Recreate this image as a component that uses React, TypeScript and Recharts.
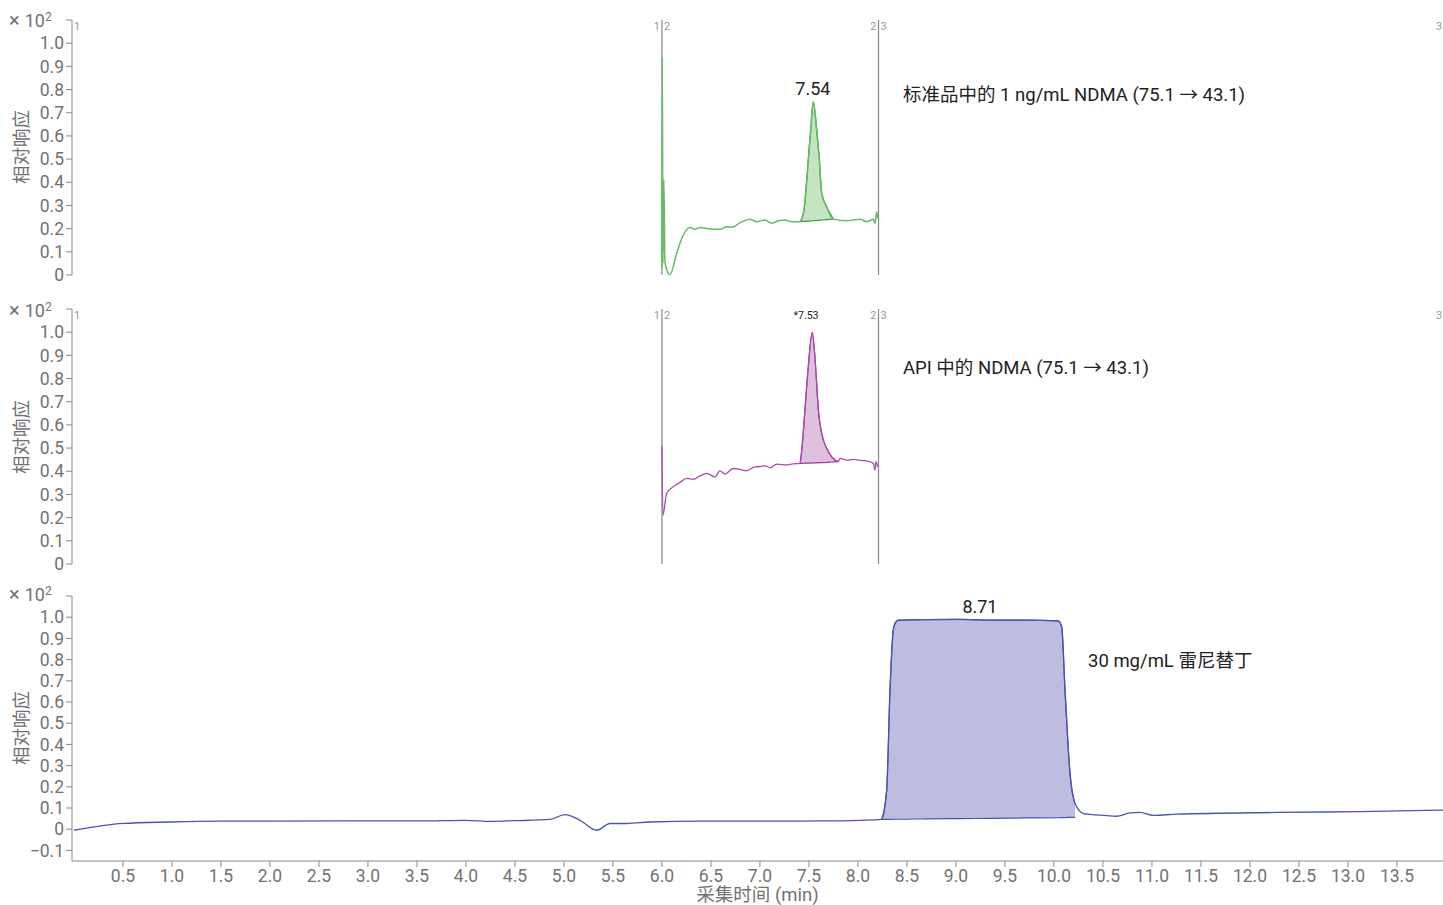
import React from "react";
import {
  ComposedChart,
  Line,
  Area,
  XAxis,
  YAxis,
  ReferenceLine,
  ReferenceDot,
} from "recharts";

// shared x axis (acquisition time, min)
const X_DOMAIN: [number, number] = [-0.02, 13.97];
const xTicks = [0.5, 1.0, 1.5, 2.0, 2.5, 3.0, 3.5, 4.0, 4.5, 5.0, 5.5, 6.0, 6.5, 7.0, 7.5, 8.0, 8.5, 9.0, 9.5, 10.0, 10.5, 11.0, 11.5, 12.0, 12.5, 13.0, 13.5];
const yTicks = [0, 0.1, 0.2, 0.3, 0.4, 0.5, 0.6, 0.7, 0.8, 0.9, 1.0, 1.1];
const yTicksLow = [-0.1, 0, 0.1, 0.2, 0.3, 0.4, 0.5, 0.6, 0.7, 0.8, 0.9, 1.0, 1.1];

// segment boundaries (min)
const segmentLines = [6.0, 8.21];

// panel 1: 1 ng/mL NDMA standard (green)
const stdTime = [6.0, 6.004, 6.01, 6.02, 6.03, 6.045, 6.08, 6.15, 6.217, 6.286, 6.337, 6.388, 6.456, 6.592, 6.66, 6.712, 6.797, 6.899, 6.967, 7.051, 7.12, 7.187, 7.256, 7.324, 7.391, 7.409, 7.449, 7.493, 7.518, 7.544, 7.579, 7.606, 7.63, 7.681, 7.749, 7.885, 8.021, 8.089, 8.157, 8.174, 8.191, 8.201];
const stdResp = [0.03, 0.94, 0.05, 0.41, 0.06, 0.03, 0.0, 0.093, 0.172, 0.205, 0.197, 0.205, 0.201, 0.197, 0.208, 0.206, 0.225, 0.24, 0.23, 0.237, 0.223, 0.234, 0.237, 0.23, 0.23, 0.23, 0.28, 0.496, 0.625, 0.747, 0.625, 0.496, 0.353, 0.294, 0.241, 0.234, 0.24, 0.23, 0.24, 0.223, 0.273, 0.244];
const stdPeakTime = [7.409, 7.449, 7.493, 7.518, 7.544, 7.579, 7.606, 7.63, 7.681, 7.749];
const stdPeakTop = [0.23, 0.28, 0.496, 0.625, 0.747, 0.625, 0.496, 0.353, 0.294, 0.241];
const stdPeakBase = [0.23, 0.231, 0.232, 0.233, 0.234, 0.235, 0.236, 0.237, 0.239, 0.241];

// panel 2: NDMA in API (purple)
const apiTime = [6.0, 6.01, 6.048, 6.116, 6.184, 6.252, 6.32, 6.388, 6.456, 6.541, 6.592, 6.643, 6.728, 6.797, 6.864, 6.949, 7.0, 7.051, 7.102, 7.171, 7.273, 7.337, 7.409, 7.436, 7.459, 7.493, 7.534, 7.568, 7.596, 7.63, 7.681, 7.732, 7.799, 7.817, 7.885, 7.952, 8.02, 8.089, 8.157, 8.174, 8.184, 8.201];
const apiResp = [0.51, 0.21, 0.305, 0.333, 0.352, 0.369, 0.365, 0.38, 0.391, 0.376, 0.402, 0.388, 0.412, 0.408, 0.402, 0.419, 0.42, 0.424, 0.415, 0.431, 0.427, 0.432, 0.434, 0.534, 0.664, 0.85, 0.999, 0.85, 0.664, 0.563, 0.499, 0.462, 0.442, 0.456, 0.448, 0.451, 0.447, 0.445, 0.434, 0.405, 0.441, 0.419];
const apiPeakTime = [7.409, 7.436, 7.459, 7.493, 7.534, 7.568, 7.596, 7.63, 7.681, 7.732, 7.799];
const apiPeakTop = [0.434, 0.534, 0.664, 0.85, 0.999, 0.85, 0.664, 0.563, 0.499, 0.462, 0.442];
const apiPeakBase = [0.434, 0.434, 0.435, 0.435, 0.436, 0.436, 0.437, 0.437, 0.438, 0.44, 0.442];

// panel 3: 30 mg/mL ranitidine (blue)
const ranTime = [0.0, 0.503, 0.98, 1.49, 2.92, 3.53, 4.0, 4.25, 4.5, 4.857, 5.011, 5.164, 5.334, 5.47, 5.64, 5.878, 6.388, 7.0, 7.61, 8.021, 8.242, 8.293, 8.327, 8.36, 8.38, 8.412, 8.7, 9.041, 9.381, 9.722, 10.044, 10.079, 10.113, 10.164, 10.215, 10.3, 10.368, 10.504, 10.64, 10.776, 10.878, 11.014, 11.252, 12.273, 13.123, 13.97];
const ranResp = [-0.005, 0.027, 0.034, 0.038, 0.039, 0.039, 0.042, 0.037, 0.04, 0.046, 0.069, 0.042, -0.005, 0.027, 0.027, 0.034, 0.038, 0.038, 0.039, 0.042, 0.046, 0.184, 0.656, 0.939, 0.972, 0.986, 0.989, 0.99, 0.986, 0.986, 0.983, 0.954, 0.656, 0.263, 0.121, 0.074, 0.07, 0.065, 0.061, 0.077, 0.079, 0.065, 0.071, 0.079, 0.083, 0.09];
const ranPeakTime = [8.242, 8.293, 8.327, 8.36, 8.38, 8.412, 8.7, 9.041, 9.381, 9.722, 10.044, 10.079, 10.113, 10.164, 10.215];
const ranPeakTop = [0.046, 0.184, 0.656, 0.939, 0.972, 0.986, 0.989, 0.99, 0.986, 0.986, 0.983, 0.954, 0.656, 0.263, 0.121];
const ranPeakBase = [0.046, 0.046, 0.046, 0.047, 0.047, 0.047, 0.049, 0.05, 0.051, 0.053, 0.054, 0.055, 0.055, 0.056, 0.056];

const toLine = (t: number[], v: number[]) => t.map((x, i) => ({ t: x, v: v[i] }));
const toRange = (t: number[], top: number[], base: number[]) =>
  t.map((x, i) => ({ t: x, r: [base[i], top[i]] }));

const AXIS = "#888";
const TICK = "#727272";
const FONT = "Roboto, 'Noto Sans CJK SC', sans-serif";

const fmtY = (v: number) => {
  if (v > 1.05) return "";
  if (Math.abs(v) < 1e-9) return "0";
  if (v < 0) return "\u2212" + Math.abs(v).toFixed(1);
  return v.toFixed(1);
};

const segLabel = (left: string, right: string, shift = 0) => (props: any) => {
  const vb = props.viewBox || {};
  const x = (vb.x ?? 0) + shift;
  const y = (vb.y ?? 0) + 10;
  return (
    <g>
      {left && (
        <text x={x - 2} y={y} textAnchor="end" fontSize={11} fill="#999">
          {left}
        </text>
      )}
      {right && (
        <text x={x + 2} y={y} textAnchor="start" fontSize={11} fill="#999">
          {right}
        </text>
      )}
    </g>
  );
};

const Overlay = ({ left, top, children, style }: any) => (
  <div style={{ position: "absolute", left, top, lineHeight: "20px", whiteSpace: "nowrap", ...style }}>
    {children}
  </div>
);

const Exp = ({ top }: { top: number }) => (
  <Overlay left={9} top={top} style={{ fontSize: 18, color: TICK }}>
    <span style={{ fontSize: 20, marginRight: 5 }}>×</span>10
    <sup style={{ fontSize: 12, verticalAlign: "6px", lineHeight: 0 }}>2</sup>
  </Overlay>
);

const YTitle = ({ cy }: { cy: number }) => (
  <div
    style={{
      position: "absolute",
      left: 22,
      top: cy,
      transform: "translate(-50%, -50%) rotate(-90deg)",
      fontSize: 18.5,
      color: TICK,
      whiteSpace: "nowrap",
      lineHeight: "20px",
    }}
  >
    相对响应
  </div>
);

export default function App() {
  const stdLine = toLine(stdTime, stdResp);
  const stdPeak = toRange(stdPeakTime, stdPeakTop, stdPeakBase);
  const apiLine = toLine(apiTime, apiResp);
  const apiPeak = toRange(apiPeakTime, apiPeakTop, apiPeakBase);
  const ranLine = toLine(ranTime, ranResp);
  const ranPeak = toRange(ranPeakTime, ranPeakTop, ranPeakBase);

  const yAxisCommon = {
    width: 72,
    stroke: AXIS,
    tick: { fill: TICK, fontSize: 17.5 },
    tickSize: 6,
    tickMargin: 2,
    interval: 0 as const,
    allowDataOverflow: true,
  };

  return (
    <div
      style={{
        position: "absolute",
        left: 0,
        top: 0,
        width: 1443,
        height: 905,
        background: "#fff",
        fontFamily: FONT,
        overflow: "hidden",
      }}
    >
      {/* panel 1 */}
      <div style={{ position: "absolute", left: 0, top: 0 }}>
        <ComposedChart width={1443} height={290} margin={{ top: 20, right: 0, bottom: 15, left: 0 }}>
          <XAxis type="number" dataKey="t" domain={X_DOMAIN} hide allowDataOverflow />
          <YAxis type="number" domain={[0, 1.1]} ticks={yTicks} tickFormatter={fmtY} {...yAxisCommon} />
          <ReferenceLine x={segmentLines[0]} stroke="#888" strokeWidth={1.2} label={segLabel("1", "2")} />
          <ReferenceLine x={segmentLines[1]} stroke="#888" strokeWidth={1.2} label={segLabel("2", "3")} />
          <ReferenceLine x={-0.02} stroke="none" label={segLabel("", "1")} ifOverflow="visible" />
          <ReferenceLine x={13.97} stroke="none" label={segLabel("", "3", -9)} ifOverflow="visible" />
          <Line data={stdLine} dataKey="v" type="monotone" stroke="#66bb66" strokeWidth={1.5} dot={false} activeDot={false} isAnimationActive={false} />
          <Area data={stdPeak} dataKey="r" type="monotone" stroke="#3d9a3d" strokeWidth={1.2} fill="#c4e4c2" fillOpacity={1} dot={false} activeDot={false} isAnimationActive={false} />
          <ReferenceDot x={7.54} y={0.747} r={0} stroke="none" fill="none" label={{ value: "7.54", position: "top", fill: "#222", fontSize: 18, offset: 7 }} />
        </ComposedChart>
      </div>

      {/* panel 2 */}
      <div style={{ position: "absolute", left: 0, top: 290 }}>
        <ComposedChart width={1443} height={290} margin={{ top: 19, right: 0, bottom: 16, left: 0 }}>
          <XAxis type="number" dataKey="t" domain={X_DOMAIN} hide allowDataOverflow />
          <YAxis type="number" domain={[0, 1.1]} ticks={yTicks} tickFormatter={fmtY} {...yAxisCommon} />
          <ReferenceLine x={segmentLines[0]} stroke="#888" strokeWidth={1.2} label={segLabel("1", "2")} />
          <ReferenceLine x={segmentLines[1]} stroke="#888" strokeWidth={1.2} label={segLabel("2", "3")} />
          <ReferenceLine x={-0.02} stroke="none" label={segLabel("", "1")} ifOverflow="visible" />
          <ReferenceLine x={13.97} stroke="none" label={segLabel("", "3", -9)} ifOverflow="visible" />
          <Line data={apiLine} dataKey="v" type="monotone" stroke="#a64dae" strokeWidth={1.3} dot={false} activeDot={false} isAnimationActive={false} />
          <Area data={apiPeak} dataKey="r" type="monotone" stroke="#983a98" strokeWidth={1.2} fill="#dfc0df" fillOpacity={1} dot={false} activeDot={false} isAnimationActive={false} />
          <ReferenceDot x={7.47} y={1.075} r={0} stroke="none" fill="none" label={{ value: "*7.53", position: "center", fill: "#222", fontSize: 10.5 }} />
        </ComposedChart>
      </div>

      {/* panel 3 */}
      <div style={{ position: "absolute", left: 0, top: 580 }}>
        <ComposedChart width={1443} height={325} margin={{ top: 16, right: 0, bottom: 0, left: 0 }}>
          <XAxis
            type="number"
            dataKey="t"
            domain={X_DOMAIN}
            ticks={xTicks}
            tickFormatter={(v: number) => v.toFixed(1)}
            interval={0}
            height={44}
            stroke={AXIS}
            tick={{ fill: TICK, fontSize: 17.5 }}
            tickSize={6}
            tickMargin={3}
            allowDataOverflow
            label={{ value: "采集时间 (min)", position: "insideBottom", offset: 4, fill: TICK, fontSize: 18.5 }}
          />
          <YAxis type="number" domain={[-0.15, 1.1]} ticks={yTicksLow} tickFormatter={fmtY} {...yAxisCommon} />
          <Area data={ranPeak} dataKey="r" type="monotone" stroke="#4a55b0" strokeWidth={1.2} fill="#bdbddf" fillOpacity={1} dot={false} activeDot={false} isAnimationActive={false} />
          <Line data={ranLine} dataKey="v" type="monotone" stroke="#4a55b0" strokeWidth={1.3} dot={false} activeDot={false} isAnimationActive={false} />
          <ReferenceDot x={9.245} y={0.99} r={0} stroke="none" fill="none" label={{ value: "8.71", position: "top", fill: "#222", fontSize: 18, offset: 6 }} />
        </ComposedChart>
      </div>

      {/* exponent marks and axis titles */}
      <Exp top={10} />
      <Exp top={300} />
      <Exp top={584} />
      <YTitle cy={147} />
      <YTitle cy={437} />
      <YTitle cy={728} />

      {/* compound annotations */}
      <Overlay left={903} top={85} style={{ fontSize: 18.5, color: "#222" }}>
        标准品中的 1 ng/mL NDMA (75.1 → 43.1)
      </Overlay>
      <Overlay left={903} top={358} style={{ fontSize: 18.5, color: "#222" }}>
        API 中的 NDMA (75.1 → 43.1)
      </Overlay>
      <Overlay left={1088} top={651} style={{ fontSize: 18.5, color: "#222" }}>
        30 mg/mL 雷尼替丁
      </Overlay>
    </div>
  );
}
